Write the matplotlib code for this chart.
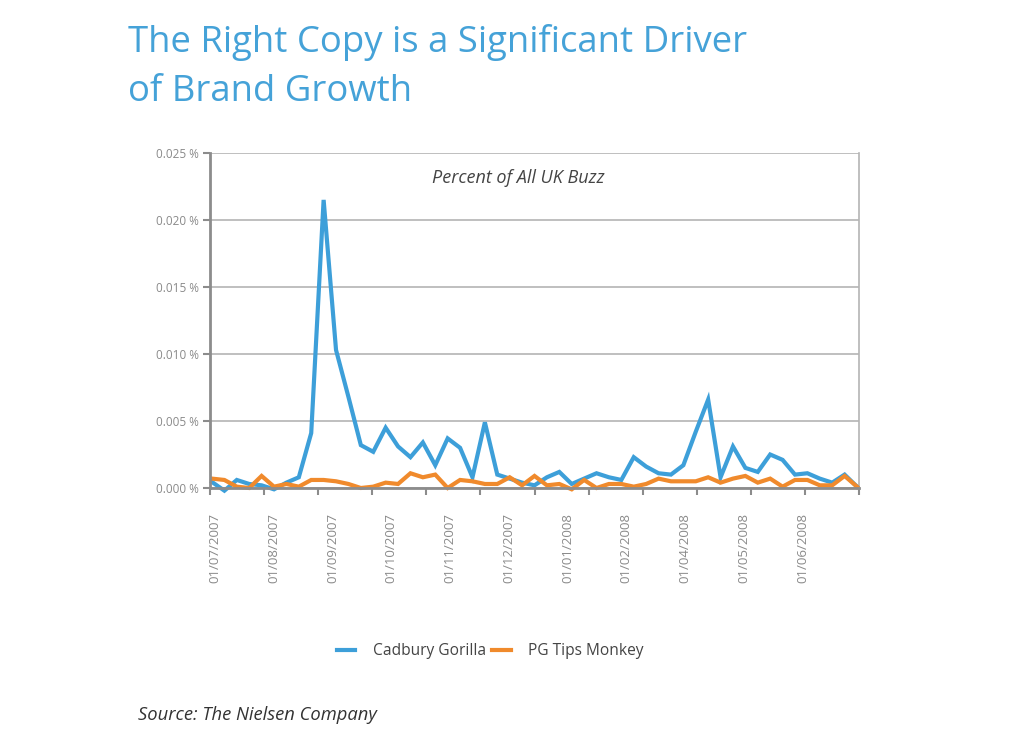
import numpy as np
import matplotlib
matplotlib.use("Agg")
import matplotlib.pyplot as plt

# ---- data (percent of all UK buzz, weekly points) ----
cadbury_gorilla = [0.00045, -0.0002, 0.0006, 0.0003, 0.0002, -0.0001, 0.0004, 0.0008,
                   0.0041, 0.0215, 0.0103, 0.0068, 0.0032, 0.0027, 0.0045, 0.0031,
                   0.0023, 0.0034, 0.0017, 0.0037, 0.0030, 0.0008, 0.0049, 0.0010,
                   0.0007, 0.0004, 0.0002, 0.0008, 0.0012, 0.0003, 0.0007, 0.0011,
                   0.0008, 0.0006, 0.0023, 0.0016, 0.0011, 0.0010, 0.0017, 0.0042,
                   0.0066, 0.0008, 0.0031, 0.0015, 0.0012, 0.0025, 0.0021, 0.0010,
                   0.0011, 0.0007, 0.0004, 0.0010, 0.0001]
pg_tips_monkey = [0.0007, 0.0006, 0.0001, 0.0000, 0.0009, 0.0001, 0.0003, 0.0001,
                  0.0006, 0.0006, 0.0005, 0.0003, 0.0000, 0.0001, 0.0004, 0.0003,
                  0.0011, 0.0008, 0.0010, 0.0000, 0.0006, 0.0005, 0.0003, 0.0003,
                  0.0008, 0.0002, 0.0009, 0.0002, 0.0003, -0.0001, 0.0006, 0.0000,
                  0.0003, 0.0003, 0.0001, 0.0003, 0.0007, 0.0005, 0.0005, 0.0005,
                  0.0008, 0.0004, 0.0007, 0.0009, 0.0004, 0.0007, 0.0001, 0.0006,
                  0.0006, 0.0002, 0.0002, 0.0009, 0.0001]
series_names = ["Cadbury Gorilla", "PG Tips Monkey"]
date_labels = ["01/07/2007", "01/08/2007", "01/09/2007", "01/10/2007", "01/11/2007",
               "01/12/2007", "01/01/2008", "01/02/2008", "01/04/2008", "01/05/2008",
               "01/06/2008"]
y_ticks = [0.000, 0.005, 0.010, 0.015, 0.020, 0.025]

title = "The Right Copy is a Significant Driver\nof Brand Growth"
inner_title = "Percent of All UK Buzz"
source = "Source: The Nielsen Company"

BLUE = "#3d9fd9"
ORANGE = "#f08a2c"
GRID = "#b4b4b4"
AXIS = "#8c8c8c"
TXT = "#8a8a8a"

plt.rcParams["font.family"] = ["Open Sans", "DejaVu Sans"]

fig = plt.figure(figsize=(10.24, 7.49), dpi=100)
ax = fig.add_axes([210 / 1024, 1 - 488 / 749, (859 - 210) / 1024, (488 - 153) / 749])

x = np.arange(len(cadbury_gorilla))
ax.plot(x, cadbury_gorilla, color=BLUE, lw=3.0, solid_joinstyle="miter",
        label=series_names[0], zorder=3, clip_on=False)
ax.plot(x, pg_tips_monkey, color=ORANGE, lw=3.0, solid_joinstyle="miter",
        label=series_names[1], zorder=4, clip_on=False)

n = len(x)
xmin, xmax = -0.16, (n - 1) + 0.16
ax.set_xlim(xmin, xmax)
ax.set_ylim(0, 0.025)

# y axis
ax.set_yticks(y_ticks)
ax.set_yticklabels([f"{v:.3f} %" for v in y_ticks], fontsize=8.5, color=TXT)
ax.yaxis.grid(True, color=GRID, lw=1.2)
ax.set_axisbelow(True)

# x axis: tick marks every interval, labels at their own positions
ax.set_xticks(np.linspace(xmin, xmax, 13))
ax.set_xticklabels([])
ax.set_xticks(np.linspace(0.25, 47.6, len(date_labels)), minor=True)
ax.set_xticklabels(date_labels, minor=True, rotation=90, fontsize=9.5, color=TXT)
ax.tick_params(axis="x", which="minor", length=0, pad=18)
ax.tick_params(axis="x", which="major", length=5, width=1.5, color=AXIS, direction="out")
ax.tick_params(axis="y", length=5, width=1.5, color=AXIS, direction="out", pad=3)

for s in ["left", "bottom"]:
    ax.spines[s].set_color(AXIS)
    ax.spines[s].set_linewidth(2)
ax.spines["right"].set_color(GRID)
ax.spines["right"].set_linewidth(1.2)
ax.spines["top"].set_visible(False)
ax.spines["left"].set_zorder(5)
ax.spines["bottom"].set_zorder(5)

ax.text(0.475, 0.925, inner_title, transform=ax.transAxes, ha="center", va="center",
        fontsize=13, style="italic", color="#444444")

fig.text(128 / 1024, 1 - 67 / 749, title, fontsize=26.3, color="#45a2d8", ha="left",
         va="center", linespacing=1.45)

leg = fig.legend(loc="center", bbox_to_anchor=(490 / 1024, 1 - 651 / 749), ncol=2,
                 frameon=False, fontsize=11.2, handlelength=1.2, columnspacing=0.4,
                 handletextpad=1.1)
for t in leg.get_texts():
    t.set_color("#444444")

fig.text(138 / 1024, 1 - 715 / 749, source, fontsize=13.2, style="italic",
         color="#333333", ha="left", va="center")

fig.savefig("out.png", dpi=100, facecolor="white")
